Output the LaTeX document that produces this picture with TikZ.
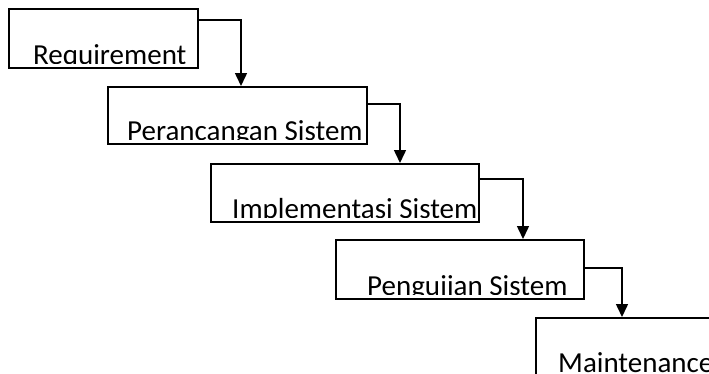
\documentclass[tikz,border=0pt]{standalone}
\usepackage{fontspec}
\setmainfont{Carlito}
\usetikzlibrary{positioning,calc,arrows.meta}

\begin{document}
\begin{tikzpicture}[
        x=1pt, y=-1pt,
        every node/.style={font=\fontsize{29}{34}\selectfont},
        box/.style={rectangle, draw=black, line width=1.6pt, anchor=north west, inner sep=0pt},
        txt/.style={anchor=base west, inner sep=0pt},
        arrow/.style={-{Triangle[length=13pt,width=12pt]}, line width=1.5pt, draw=black}
        ]

        \useasboundingbox (0,0) rectangle (709,373);
        \clip (0,0) rectangle (709,373);

        % boxes of the stair
        \node[box, minimum width=189pt, minimum height=59pt] (req) at (8,8) {};
        \node[box, minimum width=259pt, minimum height=57pt] (ran) at (107,86) {};
        \node[box, minimum width=268pt, minimum height=58pt] (imp) at (210,163) {};
        \node[box, minimum width=248pt, minimum height=59pt] (uji) at (335,239) {};
        \node[box, minimum width=200pt, minimum height=80pt] (mnt) at (535,317) {};

        % texts, cut at the bottom like the original
        \begin{scope}
            \clip (req.north west) rectangle ([yshift=5pt]req.south east);
            \node[txt] (treq) at ([xshift=25pt, yshift=4pt]req.south west) {Requirement};
        \end{scope}
        \begin{scope}
            \clip (ran.north west) rectangle ([yshift=5pt]ran.south east);
            \node[txt] (tran) at ([xshift=20pt, yshift=4pt]ran.south west) {Perancangan Sistem};
        \end{scope}
        \begin{scope}
            \clip (imp.north west) rectangle ([yshift=5pt]imp.south east);
            \node[txt] (timp) at ([xshift=22pt, yshift=4pt]imp.south west) {Implementasi Sistem};
        \end{scope}
        \begin{scope}
            \clip (uji.north west) rectangle ([yshift=5pt]uji.south east);
            \node[txt] (tuji) at ([xshift=32pt, yshift=4pt]uji.south west) {Pengujian Sistem};
        \end{scope}
        \node[txt] (tmnt) at (558,372) {Maintenance};

        % arrows down the stair
        \draw[arrow] ([yshift=-12pt]req.north east) -| ([xshift=134pt]ran.north west);
        \draw[arrow] ([yshift=-18pt]ran.north east) -| ([xshift=190pt]imp.north west);
        \draw[arrow] ([yshift=-16pt]imp.north east) -| ([xshift=188pt]uji.north west);
        \draw[arrow] ([yshift=-29pt]uji.north east) -| ([xshift=87pt]mnt.north west);

    \end{tikzpicture}
\end{document}
